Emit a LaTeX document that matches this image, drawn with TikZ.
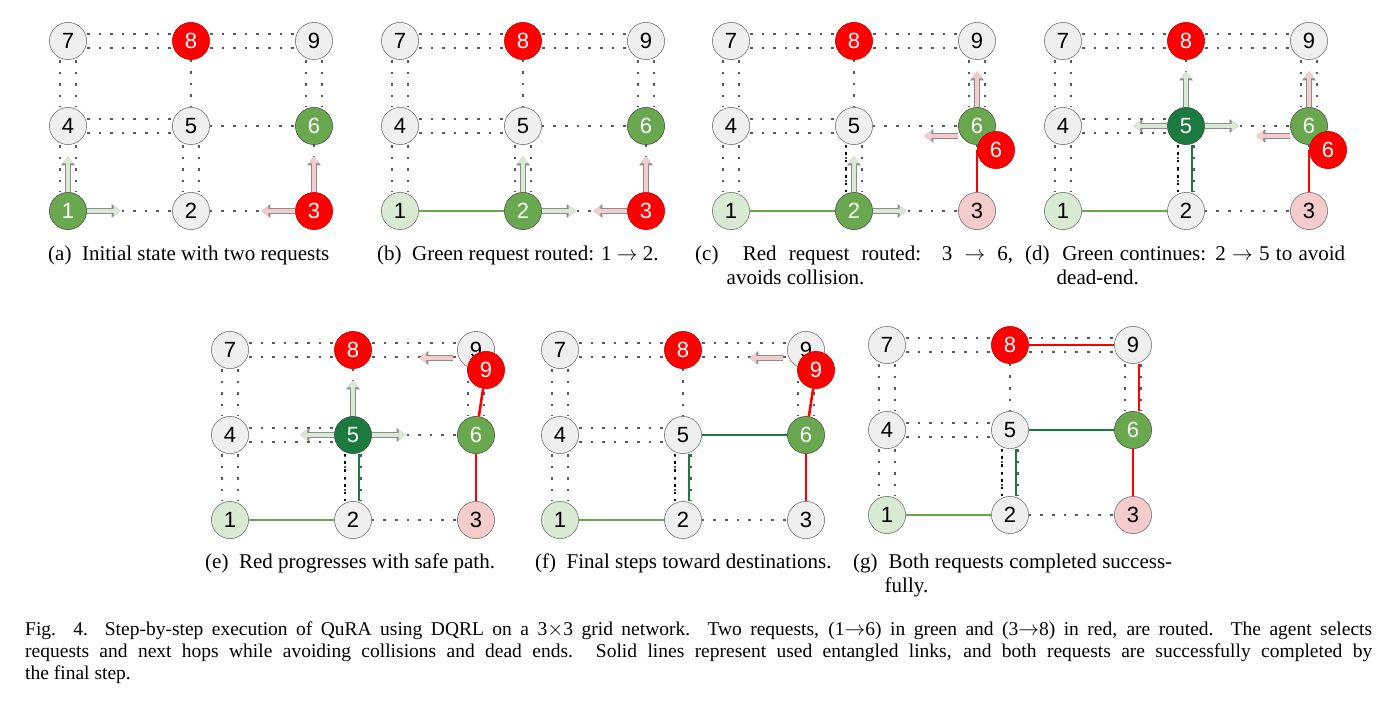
\documentclass[tikz,border=0pt]{standalone}
\usepackage{fontspec}
\setmainfont{Liberation Serif}
\newfontfamily\numfont{Liberation Sans}
\usetikzlibrary{arrows.meta,positioning}
\definecolor{qgreen}{HTML}{6AA84F}
\definecolor{qdgreen}{HTML}{1B7A3E}
\definecolor{qlgreen}{HTML}{D9EAD3}
\definecolor{qpink}{HTML}{F4CCCC}
\definecolor{qgray}{HTML}{EFEFEF}
\definecolor{qred}{HTML}{FF0000}

\tikzset{
  qnode/.style = {shape=circle,draw=gray!80!black,fill=qgray,minimum size=37pt,inner sep=0pt,
                  font=\numfont\fontsize{22}{22}\selectfont},
  gn/.style = {fill=qgreen,draw=black!70,text=white},
  dgn/.style = {fill=qdgreen,draw=black!70,text=white},
  lgn/.style = {fill=qlgreen},
  rn/.style = {fill=qred,draw=qred!80!black,text=white},
  pn/.style = {fill=qpink},
  link/.style = {draw=black!65,line width=2.6pt,dash pattern=on 2.6pt off 9pt},
  blink/.style = {draw=black,line width=2.6pt,dash pattern=on 2.6pt off 5pt},
  gline/.style = {draw=qgreen,line width=2.6pt},
  dgline/.style = {draw=qdgreen,line width=2.6pt},
  rline/.style = {draw=qred,line width=2.6pt},
  barrow/.style = {line width=4.5pt,-{Triangle[width=10pt,length=7pt]},
                   preaction={draw=black!45,line width=6.5pt,-{Triangle[width=13pt,length=9pt]}}},
  garrow/.style = {barrow,draw=qlgreen},
  parrow/.style = {barrow,draw=qpink},
}

% one 3x3 grid: prefix, x, y, node styles
\newcommand\gridpanel[4]{%
  \begin{scope}
  \tikzset{s1/.style={},s2/.style={},s3/.style={},s4/.style={},s5/.style={},
           s6/.style={},s7/.style={},s8/.style={},s9/.style={},#4}
  \foreach \n/\c/\r in {1/0/2,2/1/2,3/2/2,4/0/1,5/1/1,6/2/1,7/0/0,8/1/0,9/2/0}
    \path ({#2+123*\c},{#3+85*\r}) coordinate (#1p\n);
  \foreach \a/\b in {7/8,8/9,4/5}{
    \draw[link] ([xshift=19pt,yshift=7pt]#1p\a) -- ([xshift=-19pt,yshift=7pt]#1p\b);
    \draw[link] ([xshift=19pt,yshift=-7pt]#1p\a) -- ([xshift=-19pt,yshift=-7pt]#1p\b);}
  \foreach \a/\b in {7/4,9/6,4/1,5/2}{
    \draw[link] ([xshift=-8pt,yshift=-19pt]#1p\a) -- ([xshift=-8pt,yshift=19pt]#1p\b);
    \draw[link] ([xshift=8pt,yshift=-19pt]#1p\a) -- ([xshift=8pt,yshift=19pt]#1p\b);}
  \foreach \n/\c/\r in {1/0/2,2/1/2,3/2/2,4/0/1,5/1/1,6/2/1,7/0/0,8/1/0,9/2/0}
    \node[qnode,s\n] (#1\n) at (#1p\n) {\n};
  \foreach \a/\b in {8/5,5/6,1/2,2/3,6/3}
    \draw[link] (#1\a) -- (#1\b);
  \foreach \n in {1,...,9} \node[qnode,s\n] at (#1\n) {\n};
  \end{scope}}

\newcommand\subcap[2]{\parbox[t]{#1}{\fontsize{21}{24}\selectfont\hangindent=1.5em\hangafter=1 #2}}

\begin{document}
\begin{tikzpicture}[x=1pt,y=-1pt]
\useasboundingbox (0,0) rectangle (1380,711);

% (a)
\gridpanel{a}{68}{41}{s1/.style=gn,s6/.style=gn,s3/.style=rn,s8/.style=rn}
\draw[garrow] (a1.north) -- ++(0,-36);
\draw[garrow] (a1.east) -- ++(34,0);
\draw[parrow] (a3.north) -- ++(0,-36);
\draw[parrow] (a3.west) -- ++(-34,0);
\node[anchor=north west,inner sep=0pt] (capa) at (48,246) {\subcap{300pt}{(a)~~Initial state with two requests}};

% (b)
\gridpanel{b}{400}{41}{s1/.style=lgn,s2/.style=gn,s6/.style=gn,s3/.style=rn,s8/.style=rn}
\draw[gline] (b1) -- (b2);
\draw[garrow] (b2.north) -- ++(0,-36);
\draw[garrow] (b2.east) -- ++(34,0);
\draw[parrow] (b3.north) -- ++(0,-36);
\draw[parrow] (b3.west) -- ++(-34,0);
\node[anchor=north west,inner sep=0pt] (capb) at (377,246) {\subcap{300pt}{(b)~~Green request routed: 1 $\rightarrow$ 2.}};

% (c)
\gridpanel{c}{731}{41}{s1/.style=lgn,s2/.style=gn,s6/.style=gn,s3/.style=pn,s8/.style=rn}
\draw[gline] (c1) -- (c2);
\draw[blink] ([xshift=-8pt]c5.south) -- ([xshift=-8pt]c2.north);
\node[qnode,rn,xshift=19pt,yshift=-24pt] (c6r) at (c6) {6};
\draw[rline] (c3.north) -- (c3.north |- c6r.center);
\node[qnode,rn] at (c6r) {6};
\draw[garrow] (c2.north) -- ++(0,-36);
\draw[garrow] (c2.east) -- ++(34,0);
\draw[parrow] (c6.north) -- ++(0,-36);
\draw[parrow] (c6.west) ++(0,10) -- ++(-34,0);
\node[anchor=north west,inner sep=0pt] (capc) at (695,246) {\subcap{318pt}{(c)~~Red request routed: 3 $\rightarrow$ 6,\linebreak avoids collision.}};

% (d)
\gridpanel{d}{1063}{41}{s1/.style=lgn,s5/.style=dgn,s6/.style=gn,s3/.style=pn,s8/.style=rn}
\draw[gline] (d1) -- (d2);
\draw[blink] ([xshift=-8pt]d5.south) -- ([xshift=-8pt]d2.north);
\draw[dgline] ([xshift=6pt]d2.north) -- ([xshift=6pt]d5.south);
\node[qnode,rn,xshift=19pt,yshift=-24pt] (d6r) at (d6) {6};
\draw[rline] (d3.north) -- (d3.north |- d6r.center);
\node[qnode,rn] at (d6r) {6};
\draw[garrow] (d5.north) -- ++(0,-36);
\draw[garrow] (d5.west) -- ++(-34,0);
\draw[garrow] (d5.east) -- ++(34,0);
\draw[parrow] (d6.north) -- ++(0,-36);
\draw[parrow] (d6.west) ++(0,10) -- ++(-34,0);
\node[anchor=north west,inner sep=0pt] (capd) at (1025,246) {\subcap{320pt}{(d)~~Green continues: 2 $\rightarrow$ 5 to avoid\linebreak dead-end.}};

% (e)
\gridpanel{e}{230}{350}{s1/.style=lgn,s5/.style=dgn,s6/.style=gn,s3/.style=pn,s8/.style=rn}
\draw[gline] (e1) -- (e2);
\draw[blink] ([xshift=-8pt]e5.south) -- ([xshift=-8pt]e2.north);
\draw[dgline] ([xshift=6pt]e2.north) -- ([xshift=6pt]e5.south);
\node[qnode,rn,xshift=10pt,yshift=-20pt] (e9r) at (e9) {9};
\draw[rline] (e3) -- (e6);
\draw[rline] (e6) -- (e9r);
\node[qnode,rn] at (e9r) {9};
\draw[garrow] (e5.north) -- ++(0,-36);
\draw[garrow] (e5.west) -- ++(-34,0);
\draw[garrow] (e5.east) -- ++(34,0);
\draw[parrow] (e9.west) ++(-4,8) -- ++(-34,0);
\node[anchor=north west,inner sep=0pt] (cape) at (205,554) {\subcap{310pt}{(e)~~Red progresses with safe path.}};

% (f)
\gridpanel{f}{560}{350}{s1/.style=lgn,s6/.style=gn,s8/.style=rn}
\draw[gline] (f1) -- (f2);
\draw[blink] ([xshift=-8pt]f5.south) -- ([xshift=-8pt]f2.north);
\draw[dgline] ([xshift=6pt]f2.north) -- ([xshift=6pt]f5.south);
\draw[dgline] (f5) -- (f6);
\node[qnode,rn,xshift=10pt,yshift=-20pt] (f9r) at (f9) {9};
\draw[rline] (f3) -- (f6);
\draw[rline] (f6) -- (f9r);
\node[qnode,rn] at (f9r) {9};
\draw[parrow] (f9.west) ++(-4,8) -- ++(-34,0);
\node[anchor=north west,inner sep=0pt] (capf) at (535,554) {\subcap{310pt}{(f)~~Final steps toward destinations.}};

% (g)
\gridpanel{g}{887}{345}{s1/.style=lgn,s6/.style=gn,s3/.style=pn,s8/.style=rn}
\draw[gline] (g1) -- (g2);
\draw[blink] ([xshift=-8pt]g5.south) -- ([xshift=-8pt]g2.north);
\draw[dgline] ([xshift=6pt]g2.north) -- ([xshift=6pt]g5.south);
\draw[dgline] (g5) -- (g6);
\draw[rline] (g8) -- (g9);
\draw[rline] ([xshift=6pt]g9.south) -- ([xshift=6pt]g6.north);
\draw[rline] (g6) -- (g3);
\node[anchor=north west,inner sep=0pt] (capg) at (853,554) {\subcap{319pt}{(g)~~Both requests completed success-\linebreak fully.}};

% figure caption
\node[anchor=north west,text width=1347pt,align=justify,inner sep=0pt,
      font=\fontsize{19.5}{22}\selectfont] (figcap) at (25,622)
  {Fig. 4.~~Step-by-step execution of QuRA using DQRL on a 3$\times$3 grid network. Two requests, (1$\rightarrow$6) in green and (3$\rightarrow$8) in red, are routed. The agent selects\linebreak
   requests and next hops while avoiding collisions and dead ends. Solid lines represent used entangled links, and both requests are successfully completed by\linebreak
   the final step.};
\end{tikzpicture}
\end{document}
